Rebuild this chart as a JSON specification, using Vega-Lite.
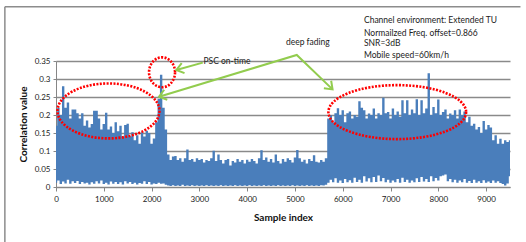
{
  "$schema": "https://vega.github.io/schema/vega-lite/v6.json",
  "width": 454,
  "height": 126,
  "autosize": {"type": "none"},
  "padding": {"left": 56, "top": 61, "right": 16, "bottom": 55},
  "background": "white",
  "config": {
    "view": {"stroke": null},
    "font": "Lato",
    "axis": {"labelFont": "Lato", "titleFont": "Lato", "labelColor": "#222", "titleColor": "#111"}
  },
  "datasets": {
    "main": [
      {"x":0,"hi":0.17,"lo":0.012},{"x":50,"hi":0.22,"lo":0.018},{"x":100,"hi":0.2,"lo":0.008},{"x":150,"hi":0.28,"lo":0.015},
      {"x":200,"hi":0.22,"lo":0.01},{"x":250,"hi":0.235,"lo":0.02},{"x":300,"hi":0.19,"lo":0.009},{"x":350,"hi":0.215,"lo":0.016},
      {"x":400,"hi":0.215,"lo":0.011},{"x":450,"hi":0.205,"lo":0.017},{"x":500,"hi":0.19,"lo":0.008},{"x":550,"hi":0.205,"lo":0.014},
      {"x":600,"hi":0.17,"lo":0.01},{"x":650,"hi":0.185,"lo":0.012},{"x":700,"hi":0.165,"lo":0.007},{"x":750,"hi":0.175,"lo":0.013},
      {"x":800,"hi":0.212,"lo":0.009},{"x":850,"hi":0.212,"lo":0.016},{"x":900,"hi":0.19,"lo":0.01},{"x":950,"hi":0.16,"lo":0.018},
      {"x":1000,"hi":0.175,"lo":0.008},{"x":1050,"hi":0.206,"lo":0.012},{"x":1100,"hi":0.16,"lo":0.007},{"x":1150,"hi":0.168,"lo":0.015},
      {"x":1200,"hi":0.15,"lo":0.009},{"x":1250,"hi":0.18,"lo":0.014},{"x":1300,"hi":0.155,"lo":0.008},{"x":1350,"hi":0.17,"lo":0.013},
      {"x":1400,"hi":0.14,"lo":0.007},{"x":1450,"hi":0.172,"lo":0.016},{"x":1500,"hi":0.176,"lo":0.01},{"x":1550,"hi":0.14,"lo":0.014},
      {"x":1600,"hi":0.152,"lo":0.008},{"x":1650,"hi":0.13,"lo":0.012},{"x":1700,"hi":0.144,"lo":0.007},{"x":1750,"hi":0.12,"lo":0.011},
      {"x":1800,"hi":0.152,"lo":0.009},{"x":1850,"hi":0.14,"lo":0.016},{"x":1900,"hi":0.156,"lo":0.008},{"x":1950,"hi":0.15,"lo":0.014},
      {"x":2000,"hi":0.12,"lo":0.007},{"x":2050,"hi":0.135,"lo":0.01},{"x":2100,"hi":0.18,"lo":0.008},{"x":2150,"hi":0.245,"lo":0.012},
      {"x":2200,"hi":0.312,"lo":0.009},{"x":2250,"hi":0.22,"lo":0.01},{"x":2300,"hi":0.16,"lo":0.006},{"x":2350,"hi":0.09,"lo":0.004},
      {"x":2400,"hi":0.075,"lo":0.003},{"x":2450,"hi":0.085,"lo":0.005},{"x":2500,"hi":0.086,"lo":0.003},{"x":2550,"hi":0.075,"lo":0.004},
      {"x":2600,"hi":0.08,"lo":0.003},{"x":2650,"hi":0.07,"lo":0.006},{"x":2700,"hi":0.08,"lo":0.003},{"x":2750,"hi":0.104,"lo":0.004},
      {"x":2800,"hi":0.075,"lo":0.003},{"x":2850,"hi":0.078,"lo":0.005},{"x":2900,"hi":0.07,"lo":0.003},{"x":2950,"hi":0.08,"lo":0.004},
      {"x":3000,"hi":0.075,"lo":0.003},{"x":3050,"hi":0.078,"lo":0.004},{"x":3100,"hi":0.068,"lo":0.003},{"x":3150,"hi":0.075,"lo":0.005},
      {"x":3200,"hi":0.072,"lo":0.003},{"x":3250,"hi":0.08,"lo":0.004},{"x":3300,"hi":0.101,"lo":0.003},{"x":3350,"hi":0.072,"lo":0.004},
      {"x":3400,"hi":0.09,"lo":0.003},{"x":3450,"hi":0.075,"lo":0.005},{"x":3500,"hi":0.065,"lo":0.003},{"x":3550,"hi":0.075,"lo":0.004},
      {"x":3600,"hi":0.078,"lo":0.003},{"x":3650,"hi":0.06,"lo":0.004},{"x":3700,"hi":0.072,"lo":0.003},{"x":3750,"hi":0.068,"lo":0.005},
      {"x":3800,"hi":0.078,"lo":0.003},{"x":3850,"hi":0.07,"lo":0.004},{"x":3900,"hi":0.075,"lo":0.003},{"x":3950,"hi":0.065,"lo":0.004},
      {"x":4000,"hi":0.076,"lo":0.003},{"x":4050,"hi":0.07,"lo":0.005},{"x":4100,"hi":0.078,"lo":0.003},{"x":4150,"hi":0.072,"lo":0.004},
      {"x":4200,"hi":0.065,"lo":0.003},{"x":4250,"hi":0.08,"lo":0.004},{"x":4300,"hi":0.102,"lo":0.003},{"x":4350,"hi":0.075,"lo":0.005},
      {"x":4400,"hi":0.082,"lo":0.003},{"x":4450,"hi":0.07,"lo":0.004},{"x":4500,"hi":0.078,"lo":0.003},{"x":4550,"hi":0.068,"lo":0.004},
      {"x":4600,"hi":0.09,"lo":0.003},{"x":4650,"hi":0.072,"lo":0.005},{"x":4700,"hi":0.065,"lo":0.003},{"x":4750,"hi":0.078,"lo":0.004},
      {"x":4800,"hi":0.07,"lo":0.003},{"x":4850,"hi":0.08,"lo":0.004},{"x":4900,"hi":0.075,"lo":0.003},{"x":4950,"hi":0.068,"lo":0.005},
      {"x":5000,"hi":0.082,"lo":0.003},{"x":5050,"hi":0.103,"lo":0.004},{"x":5100,"hi":0.08,"lo":0.003},{"x":5150,"hi":0.07,"lo":0.004},
      {"x":5200,"hi":0.076,"lo":0.003},{"x":5250,"hi":0.065,"lo":0.005},{"x":5300,"hi":0.078,"lo":0.003},{"x":5350,"hi":0.072,"lo":0.004},
      {"x":5400,"hi":0.088,"lo":0.003},{"x":5450,"hi":0.07,"lo":0.004},{"x":5500,"hi":0.068,"lo":0.003},{"x":5550,"hi":0.075,"lo":0.005},
      {"x":5600,"hi":0.07,"lo":0.004},{"x":5650,"hi":0.08,"lo":0.006},{"x":5700,"hi":0.19,"lo":0.012},{"x":5750,"hi":0.2,"lo":0.02},
      {"x":5800,"hi":0.18,"lo":0.013},{"x":5850,"hi":0.205,"lo":0.024},{"x":5900,"hi":0.219,"lo":0.012},{"x":5950,"hi":0.2,"lo":0.018},
      {"x":6000,"hi":0.213,"lo":0.011},{"x":6050,"hi":0.18,"lo":0.022},{"x":6100,"hi":0.205,"lo":0.013},{"x":6150,"hi":0.21,"lo":0.019},
      {"x":6200,"hi":0.19,"lo":0.012},{"x":6250,"hi":0.2,"lo":0.026},{"x":6300,"hi":0.195,"lo":0.014},{"x":6350,"hi":0.238,"lo":0.02},
      {"x":6400,"hi":0.22,"lo":0.012},{"x":6450,"hi":0.213,"lo":0.03},{"x":6500,"hi":0.19,"lo":0.015},{"x":6550,"hi":0.204,"lo":0.024},
      {"x":6600,"hi":0.2,"lo":0.013},{"x":6650,"hi":0.218,"lo":0.028},{"x":6700,"hi":0.19,"lo":0.014},{"x":6750,"hi":0.205,"lo":0.032},
      {"x":6800,"hi":0.2,"lo":0.016},{"x":6850,"hi":0.248,"lo":0.025},{"x":6900,"hi":0.205,"lo":0.013},{"x":6950,"hi":0.208,"lo":0.02},
      {"x":7000,"hi":0.19,"lo":0.012},{"x":7050,"hi":0.218,"lo":0.018},{"x":7100,"hi":0.2,"lo":0.013},{"x":7150,"hi":0.21,"lo":0.022},
      {"x":7200,"hi":0.195,"lo":0.012},{"x":7250,"hi":0.241,"lo":0.026},{"x":7300,"hi":0.205,"lo":0.014},{"x":7350,"hi":0.241,"lo":0.02},
      {"x":7400,"hi":0.2,"lo":0.012},{"x":7450,"hi":0.215,"lo":0.018},{"x":7500,"hi":0.205,"lo":0.013},{"x":7550,"hi":0.244,"lo":0.024},
      {"x":7600,"hi":0.2,"lo":0.014},{"x":7650,"hi":0.241,"lo":0.028},{"x":7700,"hi":0.205,"lo":0.015},{"x":7750,"hi":0.218,"lo":0.022},
      {"x":7800,"hi":0.316,"lo":0.014},{"x":7850,"hi":0.2,"lo":0.03},{"x":7900,"hi":0.222,"lo":0.016},{"x":7950,"hi":0.205,"lo":0.025},
      {"x":8000,"hi":0.243,"lo":0.018},{"x":8050,"hi":0.2,"lo":0.03},{"x":8100,"hi":0.208,"lo":0.032},{"x":8150,"hi":0.215,"lo":0.035},
      {"x":8200,"hi":0.19,"lo":0.016},{"x":8250,"hi":0.204,"lo":0.022},{"x":8300,"hi":0.2,"lo":0.013},{"x":8350,"hi":0.213,"lo":0.02},
      {"x":8400,"hi":0.19,"lo":0.012},{"x":8450,"hi":0.215,"lo":0.018},{"x":8500,"hi":0.2,"lo":0.013},{"x":8550,"hi":0.21,"lo":0.022},
      {"x":8600,"hi":0.18,"lo":0.012},{"x":8650,"hi":0.195,"lo":0.017},{"x":8700,"hi":0.17,"lo":0.011},{"x":8750,"hi":0.176,"lo":0.02},
      {"x":8800,"hi":0.16,"lo":0.012},{"x":8850,"hi":0.167,"lo":0.016},{"x":8900,"hi":0.15,"lo":0.011},{"x":8950,"hi":0.183,"lo":0.019},
      {"x":9000,"hi":0.16,"lo":0.012},{"x":9050,"hi":0.172,"lo":0.015},{"x":9100,"hi":0.165,"lo":0.011},{"x":9150,"hi":0.13,"lo":0.018},
      {"x":9200,"hi":0.144,"lo":0.012},{"x":9250,"hi":0.12,"lo":0.016},{"x":9300,"hi":0.134,"lo":0.011},{"x":9350,"hi":0.12,"lo":0.008},
      {"x":9400,"hi":0.13,"lo":0.004},{"x":9450,"hi":0.125,"lo":0.01},{"x":9500,"hi":0.13,"lo":0.03}
    ]
  },
  "encoding": {
    "x": {
      "type": "quantitative",
      "scale": {"domain": [0, 9500], "nice": false, "zero": false},
      "axis": {
        "title": "Sample index", "values": [0,1000,2000,3000,4000,5000,6000,7000,8000,9000],
        "grid": false, "domainColor": "#868686", "tickColor": "#868686", "tickSize": 4,
        "labelFontSize": 8, "labelPadding": 4, "titleFontSize": 10, "titleFontWeight": "bold",
        "titlePadding": 9, "format": "d", "labelFlush": false
      }
    },
    "y": {
      "type": "quantitative",
      "scale": {"domain": [0, 0.35], "nice": false},
      "axis": {
        "title": "Correlation value", "values": [0,0.05,0.1,0.15,0.2,0.25,0.3,0.35],
        "grid": true, "gridColor": "#8a8a8a", "gridWidth": 1.3, "domainColor": "#868686",
        "tickColor": "#868686", "tickSize": 3, "labelFontSize": 8, "labelPadding": 3,
        "titleFontSize": 10, "titleFontWeight": "bold", "titlePadding": 6, "format": "~g", "labelFlush": false
      }
    }
  },
  "layer": [
    {
      "data": {"values": [{"x0": -1070, "x1": 9719, "ytop": 0.5005, "ybot": -0.17}]},
      "mark": {"type": "rule", "stroke": "#8c8c8c", "strokeWidth": 1.5, "clip": false},
      "encoding": {"x": {"field": "x0"}, "y": {"field": "ytop"}, "y2": {"field": "ybot"}}
    },
    {
      "data": {"values": [{"x0": -1070, "x1": 9719, "ytop": 0.5005, "ybot": -0.17}]},
      "mark": {"type": "rule", "stroke": "#8c8c8c", "strokeWidth": 1.5, "clip": false},
      "encoding": {"x": {"field": "x0"}, "x2": {"field": "x1"}, "y": {"field": "ytop"}}
    },
    {
      "data": {"name": "main"},
      "mark": {"type": "area", "color": "#4a7ebb", "interpolate": "step"},
      "encoding": {"x": {"field": "x"}, "y": {"field": "hi"}, "y2": {"field": "lo"}}
    },
    {
      "data": {"values": [{"x": 1098, "y": 0.2113}]},
      "mark": {"type": "point", "shape": "M 1 0 C 1 0.298 0.5523 0.539 0 0.539 C -0.5523 0.539 -1 0.298 -1 0 C -1 -0.298 -0.5523 -0.539 0 -0.539 C 0.5523 -0.539 1 -0.298 1 0 Z", "size": 10404, "filled": false, "stroke": "#ff0000", "strokeWidth": 2.6, "strokeDash": [2, 1.4], "opacity": 1, "clip": false},
      "encoding": {"x": {"field": "x"}, "y": {"field": "y"}}
    },
    {
      "data": {"values": [{"x": 2219, "y": 0.3186}]},
      "mark": {"type": "point", "shape": "M 1 0 C 1 0.635 0.5523 1.15 0 1.15 C -0.5523 1.15 -1 0.635 -1 0 C -1 -0.635 -0.5523 -1.15 0 -1.15 C 0.5523 -1.15 1 -0.635 1 0 Z", "size": 676, "filled": false, "stroke": "#ff0000", "strokeWidth": 2.6, "strokeDash": [2, 1.4], "opacity": 1, "clip": false},
      "encoding": {"x": {"field": "x"}, "y": {"field": "y"}}
    },
    {
      "data": {"values": [{"x": 7141, "y": 0.208}]},
      "mark": {"type": "point", "shape": "M 1 0 C 1 0.2165 0.5523 0.392 0 0.392 C -0.5523 0.392 -1 0.2165 -1 0 C -1 -0.2165 -0.5523 -0.392 0 -0.392 C 0.5523 -0.392 1 -0.2165 1 0 Z", "size": 18961, "filled": false, "stroke": "#ff0000", "strokeWidth": 2.6, "strokeDash": [2, 1.4], "opacity": 1, "clip": false},
      "encoding": {"x": {"field": "x"}, "y": {"field": "y"}}
    },
    {
      "data": {"values": [
        {"arrow": "psc", "seq": 1, "x": 3071, "y": 0.3454},
        {"arrow": "psc", "seq": 2, "x": 2519, "y": 0.325},
        {"arrow": "fade", "seq": 1, "x": 2156, "y": 0.2506},
        {"arrow": "fade", "seq": 2, "x": 5038, "y": 0.3668},
        {"arrow": "fade", "seq": 3, "x": 5787, "y": 0.2712}
      ]},
      "mark": {"type": "line", "color": "#92cc4e", "strokeWidth": 2, "clip": false},
      "encoding": {"x": {"field": "x"}, "y": {"field": "y"}, "detail": {"field": "arrow"}, "order": {"field": "seq"}}
    },
    {
      "data": {"values": [{"x": 2519, "y": 0.325}]},
      "mark": {"type": "point", "shape": "M -1 -0.75 L 0 0 L -1 0.75", "size": 196, "angle": 164.5, "filled": false, "stroke": "#92cc4e", "strokeWidth": 2, "opacity": 1, "clip": false},
      "encoding": {"x": {"field": "x"}, "y": {"field": "y"}}
    },
    {
      "data": {"values": [{"x": 2156, "y": 0.2506}]},
      "mark": {"type": "point", "shape": "M -1 -0.75 L 0 0 L -1 0.75", "size": 196, "angle": 163, "filled": false, "stroke": "#92cc4e", "strokeWidth": 2, "opacity": 1, "clip": false},
      "encoding": {"x": {"field": "x"}, "y": {"field": "y"}}
    },
    {
      "data": {"values": [{"x": 5787, "y": 0.2712}]},
      "mark": {"type": "point", "shape": "M -1 -0.75 L 0 0 L -1 0.75", "size": 196, "angle": 44, "filled": false, "stroke": "#92cc4e", "strokeWidth": 2, "opacity": 1, "clip": false},
      "encoding": {"x": {"field": "x"}, "y": {"field": "y"}}
    },
    {
      "data": {"values": [
        {"x": 6444, "y": 0.4643, "t": "Channel environment: Extended  TU"},
        {"x": 6444, "y": 0.4289, "t": "Normailzed Freq. offset=0.866"},
        {"x": 6444, "y": 0.3994, "t": "SNR=3dB"},
        {"x": 6444, "y": 0.3668, "t": "Mobile speed=60km/h"},
        {"x": 3086, "y": 0.35, "t": "PSC on-time"}
      ]},
      "mark": {"type": "text", "align": "left", "baseline": "middle", "fontSize": 8.5, "color": "#222", "font": "Lato", "clip": false},
      "encoding": {"x": {"field": "x"}, "y": {"field": "y"}, "text": {"field": "t"}}
    },
    {
      "data": {"values": [{"x": 5269, "y": 0.404, "t": "deep fading"}]},
      "mark": {"type": "text", "align": "center", "baseline": "middle", "fontSize": 8.5, "color": "#222", "font": "Lato", "clip": false},
      "encoding": {"x": {"field": "x"}, "y": {"field": "y"}, "text": {"field": "t"}}
    }
  ]
}
